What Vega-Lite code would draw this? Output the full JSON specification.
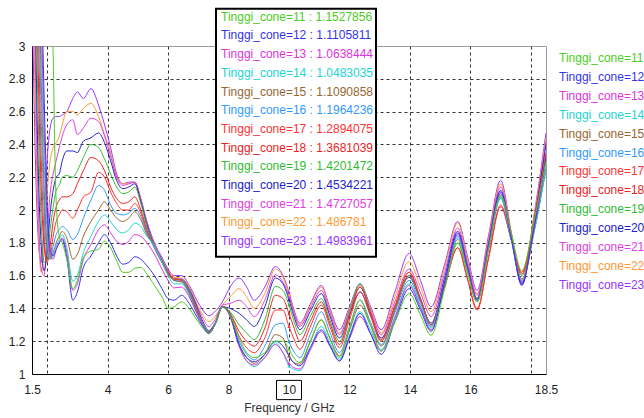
{
"$schema": "https://vega.github.io/schema/vega-lite/v6.json",
"width": 514, "height": 328,
"autosize": {"type": "none"},
"padding": {"left": 32, "top": 46, "right": 98, "bottom": 44},
"background": "white",
"config": {
  "font": "Liberation Sans",
  "view": {"stroke": "#9a9a9a", "strokeWidth": 1},
  "axis": {"labelFont": "Liberation Sans", "labelFontSize": 12, "labelColor": "#222", "domainColor": "#000", "domainWidth": 1, "ticks": false, "tickSize": 0, "gridColor": "#333", "gridDash": [3, 3], "gridWidth": 1, "titleFont": "Liberation Sans", "titleFontSize": 12, "titleFontWeight": "normal", "titleColor": "#333", "labelOverlap": false, "labelFlush": false}
},
"datasets": {
"curves": [
{"f":1.5,"c":23,"v":3.4},{"f":1.6,"c":23,"v":2.4},{"f":1.7,"c":23,"v":1.85},{"f":1.8,"c":23,"v":1.68},{"f":1.9,"c":23,"v":1.9},{"f":2.0,"c":23,"v":2.3},{"f":2.1,"c":23,"v":2.5},{"f":2.2,"c":23,"v":2.56},{"f":2.3,"c":23,"v":2.57},{"f":2.4,"c":23,"v":2.57},{"f":2.5,"c":23,"v":2.58},{"f":2.65,"c":23,"v":2.6},{"f":2.85,"c":23,"v":2.68},{"f":3.0,"c":23,"v":2.72},{"f":3.2,"c":23,"v":2.68},{"f":3.45,"c":23,"v":2.74},{"f":3.7,"c":23,"v":2.64},{"f":3.9,"c":23,"v":2.52},{"f":4.1,"c":23,"v":2.38},{"f":4.3,"c":23,"v":2.22},{"f":4.5,"c":23,"v":2.16},{"f":4.7,"c":23,"v":2.17},{"f":4.9,"c":23,"v":2.17},{"f":5.1,"c":23,"v":2.07},{"f":5.3,"c":23,"v":1.93},{"f":5.55,"c":23,"v":1.8},{"f":5.8,"c":23,"v":1.71},{"f":6.0,"c":23,"v":1.64},{"f":6.2,"c":23,"v":1.6},{"f":6.45,"c":23,"v":1.6},{"f":6.7,"c":23,"v":1.54},{"f":6.95,"c":23,"v":1.45},{"f":7.15,"c":23,"v":1.39},{"f":7.35,"c":23,"v":1.355},{"f":7.55,"c":23,"v":1.38},{"f":7.8,"c":23,"v":1.44},{"f":8.05,"c":23,"v":1.53},{"f":8.35,"c":23,"v":1.585},{"f":8.6,"c":23,"v":1.53},{"f":8.85,"c":23,"v":1.45},{"f":9.2,"c":23,"v":1.53},{"f":9.55,"c":23,"v":1.655},{"f":9.8,"c":23,"v":1.6},{"f":10.0,"c":23,"v":1.498},{"f":10.15,"c":23,"v":1.4},{"f":10.36,"c":23,"v":1.31},{"f":10.7,"c":23,"v":1.425},{"f":11.07,"c":23,"v":1.54},{"f":11.35,"c":23,"v":1.405},{"f":11.67,"c":23,"v":1.27},{"f":12.0,"c":23,"v":1.41},{"f":12.35,"c":23,"v":1.55},{"f":12.7,"c":23,"v":1.41},{"f":13.05,"c":23,"v":1.27},{"f":13.5,"c":23,"v":1.5},{"f":13.97,"c":23,"v":1.735},{"f":14.35,"c":23,"v":1.57},{"f":14.7,"c":23,"v":1.41},{"f":15.15,"c":23,"v":1.67},{"f":15.58,"c":23,"v":1.93},{"f":15.9,"c":23,"v":1.72},{"f":16.22,"c":23,"v":1.51},{"f":16.6,"c":23,"v":1.845},{"f":17.0,"c":23,"v":2.18},{"f":17.35,"c":23,"v":1.865},{"f":17.7,"c":23,"v":1.55},{"f":18.1,"c":23,"v":1.96},{"f":18.5,"c":23,"v":2.47},
{"f":1.5,"c":22,"v":3.8},{"f":1.6,"c":22,"v":2.7},{"f":1.7,"c":22,"v":1.95},{"f":1.8,"c":22,"v":1.62},{"f":1.9,"c":22,"v":1.75},{"f":2.0,"c":22,"v":2.1},{"f":2.1,"c":22,"v":2.3},{"f":2.2,"c":22,"v":2.38},{"f":2.3,"c":22,"v":2.41},{"f":2.4,"c":22,"v":2.45},{"f":2.5,"c":22,"v":2.52},{"f":2.65,"c":22,"v":2.6},{"f":2.85,"c":22,"v":2.6},{"f":3.0,"c":22,"v":2.58},{"f":3.2,"c":22,"v":2.62},{"f":3.45,"c":22,"v":2.65},{"f":3.7,"c":22,"v":2.57},{"f":3.9,"c":22,"v":2.46},{"f":4.1,"c":22,"v":2.35},{"f":4.3,"c":22,"v":2.21},{"f":4.5,"c":22,"v":2.16},{"f":4.7,"c":22,"v":2.16},{"f":4.9,"c":22,"v":2.17},{"f":5.1,"c":22,"v":2.06},{"f":5.3,"c":22,"v":1.92},{"f":5.55,"c":22,"v":1.79},{"f":5.8,"c":22,"v":1.7},{"f":6.0,"c":22,"v":1.63},{"f":6.2,"c":22,"v":1.59},{"f":6.45,"c":22,"v":1.585},{"f":6.7,"c":22,"v":1.53},{"f":6.95,"c":22,"v":1.43},{"f":7.15,"c":22,"v":1.36},{"f":7.35,"c":22,"v":1.32},{"f":7.55,"c":22,"v":1.35},{"f":7.8,"c":22,"v":1.42},{"f":8.05,"c":22,"v":1.47},{"f":8.35,"c":22,"v":1.52},{"f":8.6,"c":22,"v":1.47},{"f":8.85,"c":22,"v":1.4},{"f":9.2,"c":22,"v":1.49},{"f":9.55,"c":22,"v":1.64},{"f":9.8,"c":22,"v":1.59},{"f":10.0,"c":22,"v":1.487},{"f":10.15,"c":22,"v":1.39},{"f":10.36,"c":22,"v":1.3},{"f":10.7,"c":22,"v":1.415},{"f":11.07,"c":22,"v":1.53},{"f":11.35,"c":22,"v":1.39},{"f":11.67,"c":22,"v":1.25},{"f":12.0,"c":22,"v":1.395},{"f":12.35,"c":22,"v":1.54},{"f":12.7,"c":22,"v":1.395},{"f":13.05,"c":22,"v":1.25},{"f":13.5,"c":22,"v":1.47},{"f":13.97,"c":22,"v":1.685},{"f":14.35,"c":22,"v":1.53},{"f":14.7,"c":22,"v":1.38},{"f":15.15,"c":22,"v":1.65},{"f":15.58,"c":22,"v":1.92},{"f":15.9,"c":22,"v":1.705},{"f":16.22,"c":22,"v":1.49},{"f":16.6,"c":22,"v":1.825},{"f":17.0,"c":22,"v":2.16},{"f":17.35,"c":22,"v":1.865},{"f":17.7,"c":22,"v":1.57},{"f":18.1,"c":22,"v":1.96},{"f":18.5,"c":22,"v":2.44},
{"f":1.5,"c":21,"v":4.2},{"f":1.6,"c":21,"v":3.0},{"f":1.7,"c":21,"v":2.1},{"f":1.8,"c":21,"v":1.65},{"f":1.9,"c":21,"v":1.6},{"f":2.0,"c":21,"v":1.85},{"f":2.1,"c":21,"v":2.1},{"f":2.2,"c":21,"v":2.22},{"f":2.3,"c":21,"v":2.3},{"f":2.4,"c":21,"v":2.38},{"f":2.5,"c":21,"v":2.45},{"f":2.65,"c":21,"v":2.52},{"f":2.85,"c":21,"v":2.55},{"f":3.0,"c":21,"v":2.46},{"f":3.2,"c":21,"v":2.5},{"f":3.45,"c":21,"v":2.56},{"f":3.7,"c":21,"v":2.54},{"f":3.9,"c":21,"v":2.45},{"f":4.1,"c":21,"v":2.33},{"f":4.3,"c":21,"v":2.2},{"f":4.5,"c":21,"v":2.15},{"f":4.7,"c":21,"v":2.16},{"f":4.9,"c":21,"v":2.17},{"f":5.1,"c":21,"v":2.06},{"f":5.3,"c":21,"v":1.92},{"f":5.55,"c":21,"v":1.79},{"f":5.8,"c":21,"v":1.7},{"f":6.0,"c":21,"v":1.63},{"f":6.2,"c":21,"v":1.58},{"f":6.45,"c":21,"v":1.58},{"f":6.7,"c":21,"v":1.52},{"f":6.95,"c":21,"v":1.42},{"f":7.15,"c":21,"v":1.34},{"f":7.35,"c":21,"v":1.29},{"f":7.55,"c":21,"v":1.33},{"f":7.8,"c":21,"v":1.42},{"f":8.05,"c":21,"v":1.43},{"f":8.35,"c":21,"v":1.45},{"f":8.6,"c":21,"v":1.41},{"f":8.85,"c":21,"v":1.35},{"f":9.2,"c":21,"v":1.45},{"f":9.55,"c":21,"v":1.605},{"f":9.8,"c":21,"v":1.56},{"f":10.0,"c":21,"v":1.473},{"f":10.15,"c":21,"v":1.38},{"f":10.36,"c":21,"v":1.29},{"f":10.7,"c":21,"v":1.4},{"f":11.07,"c":21,"v":1.51},{"f":11.35,"c":21,"v":1.375},{"f":11.67,"c":21,"v":1.24},{"f":12.0,"c":21,"v":1.385},{"f":12.35,"c":21,"v":1.53},{"f":12.7,"c":21,"v":1.385},{"f":13.05,"c":21,"v":1.24},{"f":13.5,"c":21,"v":1.44},{"f":13.97,"c":21,"v":1.64},{"f":14.35,"c":21,"v":1.495},{"f":14.7,"c":21,"v":1.35},{"f":15.15,"c":21,"v":1.62},{"f":15.58,"c":21,"v":1.89},{"f":15.9,"c":21,"v":1.685},{"f":16.22,"c":21,"v":1.48},{"f":16.6,"c":21,"v":1.81},{"f":17.0,"c":21,"v":2.14},{"f":17.35,"c":21,"v":1.85},{"f":17.7,"c":21,"v":1.56},{"f":18.1,"c":21,"v":1.94},{"f":18.5,"c":21,"v":2.42},
{"f":1.5,"c":20,"v":4.4},{"f":1.6,"c":20,"v":3.3},{"f":1.7,"c":20,"v":2.3},{"f":1.8,"c":20,"v":1.8},{"f":1.9,"c":20,"v":1.63},{"f":2.0,"c":20,"v":1.75},{"f":2.1,"c":20,"v":1.98},{"f":2.2,"c":20,"v":2.12},{"f":2.3,"c":20,"v":2.2},{"f":2.4,"c":20,"v":2.22},{"f":2.5,"c":20,"v":2.3},{"f":2.65,"c":20,"v":2.36},{"f":2.85,"c":20,"v":2.36},{"f":3.0,"c":20,"v":2.35},{"f":3.2,"c":20,"v":2.42},{"f":3.45,"c":20,"v":2.44},{"f":3.7,"c":20,"v":2.47},{"f":3.9,"c":20,"v":2.41},{"f":4.1,"c":20,"v":2.3},{"f":4.3,"c":20,"v":2.18},{"f":4.5,"c":20,"v":2.13},{"f":4.7,"c":20,"v":2.14},{"f":4.9,"c":20,"v":2.16},{"f":5.1,"c":20,"v":2.05},{"f":5.3,"c":20,"v":1.91},{"f":5.55,"c":20,"v":1.78},{"f":5.8,"c":20,"v":1.69},{"f":6.0,"c":20,"v":1.62},{"f":6.2,"c":20,"v":1.58},{"f":6.45,"c":20,"v":1.575},{"f":6.7,"c":20,"v":1.515},{"f":6.95,"c":20,"v":1.41},{"f":7.15,"c":20,"v":1.32},{"f":7.35,"c":20,"v":1.265},{"f":7.55,"c":20,"v":1.31},{"f":7.8,"c":20,"v":1.41},{"f":8.05,"c":20,"v":1.4},{"f":8.35,"c":20,"v":1.37},{"f":8.6,"c":20,"v":1.33},{"f":8.85,"c":20,"v":1.29},{"f":9.2,"c":20,"v":1.41},{"f":9.55,"c":20,"v":1.585},{"f":9.8,"c":20,"v":1.55},{"f":10.0,"c":20,"v":1.453},{"f":10.15,"c":20,"v":1.36},{"f":10.36,"c":20,"v":1.27},{"f":10.7,"c":20,"v":1.38},{"f":11.07,"c":20,"v":1.49},{"f":11.35,"c":20,"v":1.355},{"f":11.67,"c":20,"v":1.22},{"f":12.0,"c":20,"v":1.36},{"f":12.35,"c":20,"v":1.5},{"f":12.7,"c":20,"v":1.36},{"f":13.05,"c":20,"v":1.22},{"f":13.5,"c":20,"v":1.405},{"f":13.97,"c":20,"v":1.59},{"f":14.35,"c":20,"v":1.45},{"f":14.7,"c":20,"v":1.31},{"f":15.15,"c":20,"v":1.59},{"f":15.58,"c":20,"v":1.87},{"f":15.9,"c":20,"v":1.66},{"f":16.22,"c":20,"v":1.46},{"f":16.6,"c":20,"v":1.79},{"f":17.0,"c":20,"v":2.12},{"f":17.35,"c":20,"v":1.83},{"f":17.7,"c":20,"v":1.54},{"f":18.1,"c":20,"v":1.92},{"f":18.5,"c":20,"v":2.4},
{"f":1.5,"c":19,"v":4.6},{"f":1.6,"c":19,"v":3.6},{"f":1.7,"c":19,"v":2.6},{"f":1.8,"c":19,"v":1.95},{"f":1.9,"c":19,"v":1.68},{"f":2.0,"c":19,"v":1.7},{"f":2.1,"c":19,"v":1.88},{"f":2.2,"c":19,"v":2.02},{"f":2.3,"c":19,"v":2.12},{"f":2.4,"c":19,"v":2.15},{"f":2.5,"c":19,"v":2.2},{"f":2.65,"c":19,"v":2.21},{"f":2.85,"c":19,"v":2.2},{"f":3.0,"c":19,"v":2.24},{"f":3.2,"c":19,"v":2.32},{"f":3.45,"c":19,"v":2.4},{"f":3.7,"c":19,"v":2.38},{"f":3.9,"c":19,"v":2.31},{"f":4.1,"c":19,"v":2.22},{"f":4.3,"c":19,"v":2.14},{"f":4.5,"c":19,"v":2.1},{"f":4.7,"c":19,"v":2.11},{"f":4.9,"c":19,"v":2.14},{"f":5.1,"c":19,"v":2.04},{"f":5.3,"c":19,"v":1.9},{"f":5.55,"c":19,"v":1.78},{"f":5.8,"c":19,"v":1.69},{"f":6.0,"c":19,"v":1.62},{"f":6.2,"c":19,"v":1.58},{"f":6.45,"c":19,"v":1.575},{"f":6.7,"c":19,"v":1.51},{"f":6.95,"c":19,"v":1.4},{"f":7.15,"c":19,"v":1.31},{"f":7.35,"c":19,"v":1.26},{"f":7.55,"c":19,"v":1.3},{"f":7.8,"c":19,"v":1.41},{"f":8.05,"c":19,"v":1.38},{"f":8.35,"c":19,"v":1.3},{"f":8.6,"c":19,"v":1.25},{"f":8.85,"c":19,"v":1.21},{"f":9.2,"c":19,"v":1.33},{"f":9.55,"c":19,"v":1.535},{"f":9.8,"c":19,"v":1.51},{"f":10.0,"c":19,"v":1.42},{"f":10.15,"c":19,"v":1.33},{"f":10.36,"c":19,"v":1.24},{"f":10.7,"c":19,"v":1.35},{"f":11.07,"c":19,"v":1.46},{"f":11.35,"c":19,"v":1.33},{"f":11.67,"c":19,"v":1.2},{"f":12.0,"c":19,"v":1.375},{"f":12.35,"c":19,"v":1.55},{"f":12.7,"c":19,"v":1.375},{"f":13.05,"c":19,"v":1.2},{"f":13.5,"c":19,"v":1.4},{"f":13.97,"c":19,"v":1.6},{"f":14.35,"c":19,"v":1.45},{"f":14.7,"c":19,"v":1.3},{"f":15.15,"c":19,"v":1.55},{"f":15.58,"c":19,"v":1.8},{"f":15.9,"c":19,"v":1.62},{"f":16.22,"c":19,"v":1.44},{"f":16.6,"c":19,"v":1.765},{"f":17.0,"c":19,"v":2.09},{"f":17.35,"c":19,"v":1.845},{"f":17.7,"c":19,"v":1.6},{"f":18.1,"c":19,"v":1.92},{"f":18.5,"c":19,"v":2.33},
{"f":1.5,"c":18,"v":4.8},{"f":1.6,"c":18,"v":3.9},{"f":1.7,"c":18,"v":2.9},{"f":1.8,"c":18,"v":2.15},{"f":1.9,"c":18,"v":1.78},{"f":2.0,"c":18,"v":1.68},{"f":2.1,"c":18,"v":1.78},{"f":2.2,"c":18,"v":1.93},{"f":2.3,"c":18,"v":2.02},{"f":2.4,"c":18,"v":2.06},{"f":2.5,"c":18,"v":2.08},{"f":2.65,"c":18,"v":2.08},{"f":2.85,"c":18,"v":2.1},{"f":3.0,"c":18,"v":2.16},{"f":3.2,"c":18,"v":2.24},{"f":3.45,"c":18,"v":2.32},{"f":3.7,"c":18,"v":2.3},{"f":3.9,"c":18,"v":2.24},{"f":4.1,"c":18,"v":2.14},{"f":4.3,"c":18,"v":2.07},{"f":4.5,"c":18,"v":2.04},{"f":4.7,"c":18,"v":2.05},{"f":4.9,"c":18,"v":2.08},{"f":5.1,"c":18,"v":2.0},{"f":5.3,"c":18,"v":1.88},{"f":5.55,"c":18,"v":1.77},{"f":5.8,"c":18,"v":1.68},{"f":6.0,"c":18,"v":1.62},{"f":6.2,"c":18,"v":1.58},{"f":6.45,"c":18,"v":1.57},{"f":6.7,"c":18,"v":1.5},{"f":6.95,"c":18,"v":1.39},{"f":7.15,"c":18,"v":1.3},{"f":7.35,"c":18,"v":1.255},{"f":7.55,"c":18,"v":1.3},{"f":7.8,"c":18,"v":1.41},{"f":8.05,"c":18,"v":1.37},{"f":8.35,"c":18,"v":1.26},{"f":8.6,"c":18,"v":1.2},{"f":8.85,"c":18,"v":1.17},{"f":9.2,"c":18,"v":1.28},{"f":9.55,"c":18,"v":1.48},{"f":9.8,"c":18,"v":1.46},{"f":10.0,"c":18,"v":1.368},{"f":10.15,"c":18,"v":1.29},{"f":10.36,"c":18,"v":1.2},{"f":10.7,"c":18,"v":1.32},{"f":11.07,"c":18,"v":1.44},{"f":11.35,"c":18,"v":1.31},{"f":11.67,"c":18,"v":1.18},{"f":12.0,"c":18,"v":1.355},{"f":12.35,"c":18,"v":1.53},{"f":12.7,"c":18,"v":1.37},{"f":13.05,"c":18,"v":1.21},{"f":13.5,"c":18,"v":1.415},{"f":13.97,"c":18,"v":1.62},{"f":14.35,"c":18,"v":1.46},{"f":14.7,"c":18,"v":1.3},{"f":15.15,"c":18,"v":1.535},{"f":15.58,"c":18,"v":1.77},{"f":15.9,"c":18,"v":1.58},{"f":16.22,"c":18,"v":1.39},{"f":16.6,"c":18,"v":1.705},{"f":17.0,"c":18,"v":2.02},{"f":17.35,"c":18,"v":1.82},{"f":17.7,"c":18,"v":1.62},{"f":18.1,"c":18,"v":1.93},{"f":18.5,"c":18,"v":2.35},
{"f":1.5,"c":17,"v":5.0},{"f":1.6,"c":17,"v":4.2},{"f":1.7,"c":17,"v":3.2},{"f":1.8,"c":17,"v":2.35},{"f":1.9,"c":17,"v":1.85},{"f":2.0,"c":17,"v":1.7},{"f":2.1,"c":17,"v":1.72},{"f":2.2,"c":17,"v":1.84},{"f":2.3,"c":17,"v":1.93},{"f":2.4,"c":17,"v":1.97},{"f":2.5,"c":17,"v":2.0},{"f":2.65,"c":17,"v":1.99},{"f":2.85,"c":17,"v":1.95},{"f":3.0,"c":17,"v":2.0},{"f":3.2,"c":17,"v":2.08},{"f":3.45,"c":17,"v":2.11},{"f":3.7,"c":17,"v":2.23},{"f":3.9,"c":17,"v":2.2},{"f":4.1,"c":17,"v":2.11},{"f":4.3,"c":17,"v":2.04},{"f":4.5,"c":17,"v":2.0},{"f":4.7,"c":17,"v":2.0},{"f":4.9,"c":17,"v":2.04},{"f":5.1,"c":17,"v":1.98},{"f":5.3,"c":17,"v":1.87},{"f":5.55,"c":17,"v":1.77},{"f":5.8,"c":17,"v":1.68},{"f":6.0,"c":17,"v":1.62},{"f":6.2,"c":17,"v":1.58},{"f":6.45,"c":17,"v":1.57},{"f":6.7,"c":17,"v":1.5},{"f":6.95,"c":17,"v":1.39},{"f":7.15,"c":17,"v":1.3},{"f":7.35,"c":17,"v":1.255},{"f":7.55,"c":17,"v":1.3},{"f":7.8,"c":17,"v":1.41},{"f":8.05,"c":17,"v":1.37},{"f":8.35,"c":17,"v":1.23},{"f":8.6,"c":17,"v":1.16},{"f":8.85,"c":17,"v":1.13},{"f":9.2,"c":17,"v":1.22},{"f":9.55,"c":17,"v":1.39},{"f":9.8,"c":17,"v":1.39},{"f":10.0,"c":17,"v":1.289},{"f":10.15,"c":17,"v":1.22},{"f":10.36,"c":17,"v":1.15},{"f":10.7,"c":17,"v":1.285},{"f":11.07,"c":17,"v":1.42},{"f":11.35,"c":17,"v":1.29},{"f":11.67,"c":17,"v":1.16},{"f":12.0,"c":17,"v":1.33},{"f":12.35,"c":17,"v":1.5},{"f":12.7,"c":17,"v":1.35},{"f":13.05,"c":17,"v":1.2},{"f":13.5,"c":17,"v":1.41},{"f":13.97,"c":17,"v":1.62},{"f":14.35,"c":17,"v":1.46},{"f":14.7,"c":17,"v":1.3},{"f":15.15,"c":17,"v":1.535},{"f":15.58,"c":17,"v":1.77},{"f":15.9,"c":17,"v":1.585},{"f":16.22,"c":17,"v":1.4},{"f":16.6,"c":17,"v":1.715},{"f":17.0,"c":17,"v":2.03},{"f":17.35,"c":17,"v":1.82},{"f":17.7,"c":17,"v":1.61},{"f":18.1,"c":17,"v":1.92},{"f":18.5,"c":17,"v":2.34},
{"f":1.5,"c":16,"v":5.2},{"f":1.6,"c":16,"v":4.4},{"f":1.7,"c":16,"v":3.5},{"f":1.8,"c":16,"v":2.6},{"f":1.9,"c":16,"v":2.0},{"f":2.0,"c":16,"v":1.74},{"f":2.1,"c":16,"v":1.7},{"f":2.2,"c":16,"v":1.78},{"f":2.3,"c":16,"v":1.85},{"f":2.4,"c":16,"v":1.88},{"f":2.5,"c":16,"v":1.9},{"f":2.65,"c":16,"v":1.88},{"f":2.85,"c":16,"v":1.82},{"f":3.0,"c":16,"v":1.85},{"f":3.2,"c":16,"v":1.95},{"f":3.45,"c":16,"v":2.06},{"f":3.7,"c":16,"v":2.15},{"f":3.9,"c":16,"v":2.12},{"f":4.1,"c":16,"v":2.03},{"f":4.3,"c":16,"v":1.98},{"f":4.5,"c":16,"v":1.97},{"f":4.7,"c":16,"v":1.98},{"f":4.9,"c":16,"v":2.01},{"f":5.1,"c":16,"v":1.96},{"f":5.3,"c":16,"v":1.86},{"f":5.55,"c":16,"v":1.77},{"f":5.8,"c":16,"v":1.68},{"f":6.0,"c":16,"v":1.61},{"f":6.2,"c":16,"v":1.57},{"f":6.45,"c":16,"v":1.565},{"f":6.7,"c":16,"v":1.5},{"f":6.95,"c":16,"v":1.38},{"f":7.15,"c":16,"v":1.3},{"f":7.35,"c":16,"v":1.25},{"f":7.55,"c":16,"v":1.3},{"f":7.8,"c":16,"v":1.41},{"f":8.05,"c":16,"v":1.36},{"f":8.35,"c":16,"v":1.2},{"f":8.6,"c":16,"v":1.12},{"f":8.85,"c":16,"v":1.086},{"f":9.2,"c":16,"v":1.17},{"f":9.55,"c":16,"v":1.3},{"f":9.8,"c":16,"v":1.31},{"f":10.0,"c":16,"v":1.196},{"f":10.15,"c":16,"v":1.14},{"f":10.36,"c":16,"v":1.1},{"f":10.7,"c":16,"v":1.24},{"f":11.07,"c":16,"v":1.38},{"f":11.35,"c":16,"v":1.255},{"f":11.67,"c":16,"v":1.13},{"f":12.0,"c":16,"v":1.29},{"f":12.35,"c":16,"v":1.45},{"f":12.7,"c":16,"v":1.315},{"f":13.05,"c":16,"v":1.18},{"f":13.5,"c":16,"v":1.375},{"f":13.97,"c":16,"v":1.57},{"f":14.35,"c":16,"v":1.43},{"f":14.7,"c":16,"v":1.29},{"f":15.15,"c":16,"v":1.565},{"f":15.58,"c":16,"v":1.84},{"f":15.9,"c":16,"v":1.645},{"f":16.22,"c":16,"v":1.45},{"f":16.6,"c":16,"v":1.76},{"f":17.0,"c":16,"v":2.07},{"f":17.35,"c":16,"v":1.815},{"f":17.7,"c":16,"v":1.56},{"f":18.1,"c":16,"v":1.86},{"f":18.5,"c":16,"v":2.26},
{"f":1.5,"c":15,"v":5.4},{"f":1.6,"c":15,"v":4.6},{"f":1.7,"c":15,"v":3.7},{"f":1.8,"c":15,"v":2.85},{"f":1.9,"c":15,"v":2.15},{"f":2.0,"c":15,"v":1.8},{"f":2.1,"c":15,"v":1.7},{"f":2.2,"c":15,"v":1.74},{"f":2.3,"c":15,"v":1.8},{"f":2.4,"c":15,"v":1.84},{"f":2.5,"c":15,"v":1.87},{"f":2.65,"c":15,"v":1.83},{"f":2.85,"c":15,"v":1.7},{"f":3.0,"c":15,"v":1.73},{"f":3.2,"c":15,"v":1.84},{"f":3.45,"c":15,"v":1.93},{"f":3.7,"c":15,"v":2.0},{"f":3.9,"c":15,"v":2.05},{"f":4.1,"c":15,"v":2.0},{"f":4.3,"c":15,"v":1.95},{"f":4.5,"c":15,"v":1.93},{"f":4.7,"c":15,"v":1.95},{"f":4.9,"c":15,"v":1.99},{"f":5.1,"c":15,"v":1.94},{"f":5.3,"c":15,"v":1.85},{"f":5.55,"c":15,"v":1.78},{"f":5.8,"c":15,"v":1.68},{"f":6.0,"c":15,"v":1.61},{"f":6.2,"c":15,"v":1.57},{"f":6.45,"c":15,"v":1.56},{"f":6.7,"c":15,"v":1.49},{"f":6.95,"c":15,"v":1.38},{"f":7.15,"c":15,"v":1.3},{"f":7.35,"c":15,"v":1.25},{"f":7.55,"c":15,"v":1.3},{"f":7.8,"c":15,"v":1.41},{"f":8.05,"c":15,"v":1.36},{"f":8.35,"c":15,"v":1.18},{"f":8.6,"c":15,"v":1.1},{"f":8.85,"c":15,"v":1.065},{"f":9.2,"c":15,"v":1.12},{"f":9.55,"c":15,"v":1.24},{"f":9.8,"c":15,"v":1.22},{"f":10.0,"c":15,"v":1.109},{"f":10.15,"c":15,"v":1.07},{"f":10.36,"c":15,"v":1.06},{"f":10.7,"c":15,"v":1.195},{"f":11.07,"c":15,"v":1.33},{"f":11.35,"c":15,"v":1.22},{"f":11.67,"c":15,"v":1.11},{"f":12.0,"c":15,"v":1.265},{"f":12.35,"c":15,"v":1.42},{"f":12.7,"c":15,"v":1.295},{"f":13.05,"c":15,"v":1.17},{"f":13.5,"c":15,"v":1.385},{"f":13.97,"c":15,"v":1.6},{"f":14.35,"c":15,"v":1.45},{"f":14.7,"c":15,"v":1.3},{"f":15.15,"c":15,"v":1.56},{"f":15.58,"c":15,"v":1.82},{"f":15.9,"c":15,"v":1.64},{"f":16.22,"c":15,"v":1.46},{"f":16.6,"c":15,"v":1.77},{"f":17.0,"c":15,"v":2.08},{"f":17.35,"c":15,"v":1.83},{"f":17.7,"c":15,"v":1.58},{"f":18.1,"c":15,"v":1.87},{"f":18.5,"c":15,"v":2.25},
{"f":1.5,"c":14,"v":5.6},{"f":1.6,"c":14,"v":4.8},{"f":1.7,"c":14,"v":3.9},{"f":1.8,"c":14,"v":3.05},{"f":1.9,"c":14,"v":2.3},{"f":2.0,"c":14,"v":1.85},{"f":2.1,"c":14,"v":1.7},{"f":2.2,"c":14,"v":1.72},{"f":2.3,"c":14,"v":1.78},{"f":2.4,"c":14,"v":1.82},{"f":2.5,"c":14,"v":1.85},{"f":2.65,"c":14,"v":1.77},{"f":2.85,"c":14,"v":1.565},{"f":3.0,"c":14,"v":1.6},{"f":3.2,"c":14,"v":1.74},{"f":3.45,"c":14,"v":1.84},{"f":3.7,"c":14,"v":1.93},{"f":3.9,"c":14,"v":1.97},{"f":4.1,"c":14,"v":1.93},{"f":4.3,"c":14,"v":1.88},{"f":4.5,"c":14,"v":1.86},{"f":4.7,"c":14,"v":1.88},{"f":4.9,"c":14,"v":1.92},{"f":5.1,"c":14,"v":1.9},{"f":5.3,"c":14,"v":1.84},{"f":5.55,"c":14,"v":1.78},{"f":5.8,"c":14,"v":1.68},{"f":6.0,"c":14,"v":1.6},{"f":6.2,"c":14,"v":1.55},{"f":6.45,"c":14,"v":1.55},{"f":6.7,"c":14,"v":1.48},{"f":6.95,"c":14,"v":1.37},{"f":7.15,"c":14,"v":1.3},{"f":7.35,"c":14,"v":1.25},{"f":7.55,"c":14,"v":1.3},{"f":7.8,"c":14,"v":1.41},{"f":8.05,"c":14,"v":1.35},{"f":8.35,"c":14,"v":1.17},{"f":8.6,"c":14,"v":1.08},{"f":8.85,"c":14,"v":1.045},{"f":9.2,"c":14,"v":1.1},{"f":9.55,"c":14,"v":1.19},{"f":9.8,"c":14,"v":1.13},{"f":10.0,"c":14,"v":1.048},{"f":10.15,"c":14,"v":1.03},{"f":10.36,"c":14,"v":1.02},{"f":10.7,"c":14,"v":1.155},{"f":11.07,"c":14,"v":1.29},{"f":11.35,"c":14,"v":1.19},{"f":11.67,"c":14,"v":1.09},{"f":12.0,"c":14,"v":1.235},{"f":12.35,"c":14,"v":1.38},{"f":12.7,"c":14,"v":1.265},{"f":13.05,"c":14,"v":1.15},{"f":13.5,"c":14,"v":1.35},{"f":13.97,"c":14,"v":1.55},{"f":14.35,"c":14,"v":1.415},{"f":14.7,"c":14,"v":1.28},{"f":15.15,"c":14,"v":1.555},{"f":15.58,"c":14,"v":1.83},{"f":15.9,"c":14,"v":1.64},{"f":16.22,"c":14,"v":1.45},{"f":16.6,"c":14,"v":1.765},{"f":17.0,"c":14,"v":2.08},{"f":17.35,"c":14,"v":1.825},{"f":17.7,"c":14,"v":1.57},{"f":18.1,"c":14,"v":1.86},{"f":18.5,"c":14,"v":2.25},
{"f":1.5,"c":13,"v":5.8},{"f":1.6,"c":13,"v":5.0},{"f":1.7,"c":13,"v":4.1},{"f":1.8,"c":13,"v":3.25},{"f":1.9,"c":13,"v":2.5},{"f":2.0,"c":13,"v":1.95},{"f":2.1,"c":13,"v":1.72},{"f":2.2,"c":13,"v":1.7},{"f":2.3,"c":13,"v":1.76},{"f":2.4,"c":13,"v":1.8},{"f":2.5,"c":13,"v":1.83},{"f":2.65,"c":13,"v":1.74},{"f":2.85,"c":13,"v":1.51},{"f":3.0,"c":13,"v":1.55},{"f":3.2,"c":13,"v":1.7},{"f":3.45,"c":13,"v":1.79},{"f":3.7,"c":13,"v":1.88},{"f":3.9,"c":13,"v":1.91},{"f":4.1,"c":13,"v":1.86},{"f":4.3,"c":13,"v":1.81},{"f":4.5,"c":13,"v":1.79},{"f":4.7,"c":13,"v":1.81},{"f":4.9,"c":13,"v":1.85},{"f":5.1,"c":13,"v":1.84},{"f":5.3,"c":13,"v":1.8},{"f":5.55,"c":13,"v":1.73},{"f":5.8,"c":13,"v":1.64},{"f":6.0,"c":13,"v":1.57},{"f":6.2,"c":13,"v":1.525},{"f":6.45,"c":13,"v":1.53},{"f":6.7,"c":13,"v":1.47},{"f":6.95,"c":13,"v":1.37},{"f":7.15,"c":13,"v":1.3},{"f":7.35,"c":13,"v":1.25},{"f":7.55,"c":13,"v":1.3},{"f":7.8,"c":13,"v":1.41},{"f":8.05,"c":13,"v":1.35},{"f":8.35,"c":13,"v":1.17},{"f":8.6,"c":13,"v":1.08},{"f":8.85,"c":13,"v":1.055},{"f":9.2,"c":13,"v":1.1},{"f":9.55,"c":13,"v":1.18},{"f":9.8,"c":13,"v":1.13},{"f":10.0,"c":13,"v":1.064},{"f":10.15,"c":13,"v":1.04},{"f":10.36,"c":13,"v":1.03},{"f":10.7,"c":13,"v":1.145},{"f":11.07,"c":13,"v":1.26},{"f":11.35,"c":13,"v":1.17},{"f":11.67,"c":13,"v":1.08},{"f":12.0,"c":13,"v":1.215},{"f":12.35,"c":13,"v":1.35},{"f":12.7,"c":13,"v":1.245},{"f":13.05,"c":13,"v":1.14},{"f":13.5,"c":13,"v":1.34},{"f":13.97,"c":13,"v":1.54},{"f":14.35,"c":13,"v":1.405},{"f":14.7,"c":13,"v":1.27},{"f":15.15,"c":13,"v":1.56},{"f":15.58,"c":13,"v":1.85},{"f":15.9,"c":13,"v":1.655},{"f":16.22,"c":13,"v":1.46},{"f":16.6,"c":13,"v":1.78},{"f":17.0,"c":13,"v":2.1},{"f":17.35,"c":13,"v":1.83},{"f":17.7,"c":13,"v":1.56},{"f":18.1,"c":13,"v":1.88},{"f":18.5,"c":13,"v":2.3},
{"f":1.5,"c":12,"v":6.0},{"f":1.6,"c":12,"v":5.2},{"f":1.7,"c":12,"v":4.3},{"f":1.8,"c":12,"v":3.5},{"f":1.9,"c":12,"v":2.7},{"f":2.0,"c":12,"v":2.05},{"f":2.1,"c":12,"v":1.76},{"f":2.2,"c":12,"v":1.72},{"f":2.3,"c":12,"v":1.76},{"f":2.4,"c":12,"v":1.8},{"f":2.5,"c":12,"v":1.82},{"f":2.65,"c":12,"v":1.71},{"f":2.85,"c":12,"v":1.45},{"f":3.0,"c":12,"v":1.5},{"f":3.2,"c":12,"v":1.65},{"f":3.45,"c":12,"v":1.72},{"f":3.7,"c":12,"v":1.8},{"f":3.9,"c":12,"v":1.85},{"f":4.1,"c":12,"v":1.8},{"f":4.3,"c":12,"v":1.72},{"f":4.5,"c":12,"v":1.67},{"f":4.7,"c":12,"v":1.68},{"f":4.9,"c":12,"v":1.715},{"f":5.1,"c":12,"v":1.7},{"f":5.3,"c":12,"v":1.66},{"f":5.55,"c":12,"v":1.6},{"f":5.8,"c":12,"v":1.52},{"f":6.0,"c":12,"v":1.46},{"f":6.2,"c":12,"v":1.45},{"f":6.45,"c":12,"v":1.48},{"f":6.7,"c":12,"v":1.43},{"f":6.95,"c":12,"v":1.35},{"f":7.15,"c":12,"v":1.29},{"f":7.35,"c":12,"v":1.25},{"f":7.55,"c":12,"v":1.3},{"f":7.8,"c":12,"v":1.41},{"f":8.05,"c":12,"v":1.36},{"f":8.35,"c":12,"v":1.18},{"f":8.6,"c":12,"v":1.1},{"f":8.85,"c":12,"v":1.075},{"f":9.2,"c":12,"v":1.12},{"f":9.55,"c":12,"v":1.2},{"f":9.8,"c":12,"v":1.17},{"f":10.0,"c":12,"v":1.111},{"f":10.15,"c":12,"v":1.07},{"f":10.36,"c":12,"v":1.05},{"f":10.7,"c":12,"v":1.16},{"f":11.07,"c":12,"v":1.27},{"f":11.35,"c":12,"v":1.175},{"f":11.67,"c":12,"v":1.08},{"f":12.0,"c":12,"v":1.225},{"f":12.35,"c":12,"v":1.37},{"f":12.7,"c":12,"v":1.245},{"f":13.05,"c":12,"v":1.12},{"f":13.5,"c":12,"v":1.32},{"f":13.97,"c":12,"v":1.52},{"f":14.35,"c":12,"v":1.39},{"f":14.7,"c":12,"v":1.26},{"f":15.15,"c":12,"v":1.56},{"f":15.58,"c":12,"v":1.86},{"f":15.9,"c":12,"v":1.655},{"f":16.22,"c":12,"v":1.45},{"f":16.6,"c":12,"v":1.78},{"f":17.0,"c":12,"v":2.11},{"f":17.35,"c":12,"v":1.83},{"f":17.7,"c":12,"v":1.55},{"f":18.1,"c":12,"v":1.89},{"f":18.5,"c":12,"v":2.32},
{"f":1.5,"c":11,"v":6.5},{"f":1.6,"c":11,"v":5.8},{"f":1.7,"c":11,"v":5.0},{"f":1.8,"c":11,"v":4.4},{"f":1.9,"c":11,"v":3.9},{"f":2.0,"c":11,"v":3.5},{"f":2.1,"c":11,"v":3.25},{"f":2.2,"c":11,"v":2.95},{"f":2.25,"c":11,"v":2.4},{"f":2.3,"c":11,"v":2.05},{"f":2.4,"c":11,"v":1.84},{"f":2.5,"c":11,"v":1.8},{"f":2.65,"c":11,"v":1.7},{"f":2.85,"c":11,"v":1.52},{"f":3.0,"c":11,"v":1.57},{"f":3.2,"c":11,"v":1.71},{"f":3.45,"c":11,"v":1.75},{"f":3.7,"c":11,"v":1.76},{"f":3.9,"c":11,"v":1.81},{"f":4.1,"c":11,"v":1.77},{"f":4.3,"c":11,"v":1.69},{"f":4.5,"c":11,"v":1.62},{"f":4.7,"c":11,"v":1.62},{"f":4.9,"c":11,"v":1.645},{"f":5.1,"c":11,"v":1.65},{"f":5.3,"c":11,"v":1.61},{"f":5.55,"c":11,"v":1.54},{"f":5.8,"c":11,"v":1.47},{"f":6.0,"c":11,"v":1.4},{"f":6.2,"c":11,"v":1.41},{"f":6.45,"c":11,"v":1.44},{"f":6.7,"c":11,"v":1.4},{"f":6.95,"c":11,"v":1.33},{"f":7.15,"c":11,"v":1.28},{"f":7.35,"c":11,"v":1.245},{"f":7.55,"c":11,"v":1.3},{"f":7.8,"c":11,"v":1.41},{"f":8.05,"c":11,"v":1.36},{"f":8.35,"c":11,"v":1.22},{"f":8.6,"c":11,"v":1.13},{"f":8.85,"c":11,"v":1.1},{"f":9.2,"c":11,"v":1.13},{"f":9.55,"c":11,"v":1.2},{"f":9.8,"c":11,"v":1.2},{"f":10.0,"c":11,"v":1.153},{"f":10.15,"c":11,"v":1.1},{"f":10.36,"c":11,"v":1.07},{"f":10.7,"c":11,"v":1.2},{"f":11.07,"c":11,"v":1.33},{"f":11.35,"c":11,"v":1.215},{"f":11.67,"c":11,"v":1.1},{"f":12.0,"c":11,"v":1.275},{"f":12.35,"c":11,"v":1.45},{"f":12.7,"c":11,"v":1.295},{"f":13.05,"c":11,"v":1.14},{"f":13.5,"c":11,"v":1.315},{"f":13.97,"c":11,"v":1.49},{"f":14.35,"c":11,"v":1.36},{"f":14.7,"c":11,"v":1.236},{"f":15.15,"c":11,"v":1.52},{"f":15.58,"c":11,"v":1.8},{"f":15.9,"c":11,"v":1.62},{"f":16.22,"c":11,"v":1.44},{"f":16.6,"c":11,"v":1.765},{"f":17.0,"c":11,"v":2.09},{"f":17.35,"c":11,"v":1.86},{"f":17.7,"c":11,"v":1.63},{"f":18.1,"c":11,"v":1.93},{"f":18.5,"c":11,"v":2.3}
],
"marker": [
{"f":10,"v":1.1527856,"label":"Tinggi_cone=11 : 1.1527856"},
{"f":10,"v":1.1105811,"label":"Tinggi_cone=12 : 1.1105811"},
{"f":10,"v":1.0638444,"label":"Tinggi_cone=13 : 1.0638444"},
{"f":10,"v":1.0483035,"label":"Tinggi_cone=14 : 1.0483035"},
{"f":10,"v":1.1090858,"label":"Tinggi_cone=15 : 1.1090858"},
{"f":10,"v":1.1964236,"label":"Tinggi_cone=16 : 1.1964236"},
{"f":10,"v":1.2894075,"label":"Tinggi_cone=17 : 1.2894075"},
{"f":10,"v":1.3681039,"label":"Tinggi_cone=18 : 1.3681039"},
{"f":10,"v":1.4201472,"label":"Tinggi_cone=19 : 1.4201472"},
{"f":10,"v":1.4534221,"label":"Tinggi_cone=20 : 1.4534221"},
{"f":10,"v":1.4727057,"label":"Tinggi_cone=21 : 1.4727057"},
{"f":10,"v":1.486781,"label":"Tinggi_cone=22 : 1.486781"},
{"f":10,"v":1.4983961,"label":"Tinggi_cone=23 : 1.4983961"}
],
"axisMark": [{"f":10,"v":1}]
},
"layer": [
{
 "data": {"name": "curves"},
 "mark": {"type": "line", "interpolate": "monotone", "strokeWidth": 1, "clip": true},
 "encoding": {
  "x": {"field": "f", "type": "quantitative",
        "scale": {"domain": [1.5, 18.5], "nice": false, "zero": false},
        "axis": {"values": [1.5, 2, 4, 6, 8, 10, 12, 14, 16, 18, 18.5], "tickCount": 30,
                 "labelExpr": "datum.value == 2 || datum.value == 18 ? '' : '' + datum.value",
                 "labelPadding": 10, "title": "Frequency / GHz", "titlePadding": 7,
                 "gridOpacity": {"condition": {"test": "datum.value == 1.5 || datum.value == 18.5", "value": 0}, "value": 1}}},
  "y": {"field": "v", "type": "quantitative",
        "scale": {"domain": [1, 3], "nice": false, "zero": false},
        "axis": {"values": [1, 1.2, 1.4, 1.6, 1.8, 2, 2.2, 2.4, 2.6, 2.8, 3], "tickCount": 30,
                 "labelExpr": "'' + datum.value",
                 "labelPadding": 7, "title": null,
                 "gridOpacity": {"condition": {"test": "datum.value == 1 || datum.value == 3", "value": 0}, "value": 1}}},
  "color": {"field": "c", "type": "nominal",
            "scale": {"domain": [11, 12, 13, 14, 15, 16, 17, 18, 19, 20, 21, 22, 23],
                      "range": ["#4ccc22", "#3333ee", "#dd33dd", "#22d4d4", "#996633", "#3399ff", "#ff3333", "#ee2222", "#33bb33", "#2222cc", "#e040e0", "#ff9933", "#9933ff"]},
            "legend": {"orient": "none", "legendX": 518, "legendY": 6, "title": null, "direction": "vertical",
                       "symbolType": "stroke", "symbolSize": 16, "symbolStrokeWidth": 1, "symbolOpacity": 0, "labelOffset": -3,
                       "labelFont": "Liberation Sans", "labelFontSize": 12, "rowPadding": 6.9, "padding": 0, "labelLimit": 200,
                       "labelExpr": "'Tinggi_cone=' + datum.label",
                       "encode": {"labels": {"update": {"fill": {"scale": "color", "field": "value"}}},
                                  "symbols": {"update": {"opacity": {"value": 0}, "strokeOpacity": {"value": 0}}}}}}
 }
},
{
 "mark": {"type": "rule", "color": "black", "strokeWidth": 1.5},
 "encoding": {"x": {"datum": 10}}
},
{
 "data": {"name": "marker"},
 "mark": {"type": "point", "filled": true, "size": 12, "shape": "triangle-up", "opacity": 1},
 "encoding": {
  "x": {"field": "f", "type": "quantitative"},
  "y": {"field": "v", "type": "quantitative"},
  "fill": {"field": "label", "type": "nominal",
           "scale": {"range": ["#4ccc22", "#3333ee", "#dd33dd", "#22d4d4", "#996633", "#3399ff", "#ff3333", "#ee2222", "#33bb33", "#2222cc", "#e040e0", "#ff9933", "#9933ff"]},
           "legend": {"orient": "none", "legendX": 184, "legendY": -37.3, "title": " ", "titleOrient": "bottom", "titleFontSize": 8, "titlePadding": 0,
                      "direction": "vertical", "symbolSize": 1, "symbolOpacity": 0, "symbolStrokeWidth": 0, "labelOffset": -9,
                      "labelFont": "Liberation Sans", "labelFontSize": 12, "rowPadding": 6.7, "padding": 2, "labelLimit": 300,
                      "fillColor": "white", "strokeColor": "black",
                      "encode": {"labels": {"update": {"fill": {"scale": "fill", "field": "value"}}},
                                 "legend": {"update": {"strokeWidth": {"value": 2}}}}}}
 }
},
{
 "data": {"name": "axisMark"},
 "mark": {"type": "point", "shape": "M-1.3,-1H1.3V1H-1.3Z", "size": 370, "filled": false, "stroke": "black", "strokeWidth": 1, "opacity": 1, "yOffset": 16, "clip": false},
 "encoding": {
  "x": {"field": "f", "type": "quantitative"},
  "y": {"field": "v", "type": "quantitative"}
 }
}
]
}
